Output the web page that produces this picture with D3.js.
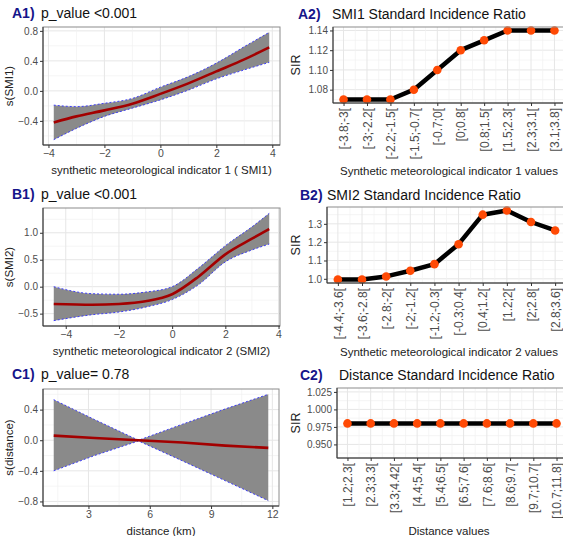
<!DOCTYPE html>
<html>
<head>
<meta charset="utf-8">
<script src="https://cdn.jsdelivr.net/npm/d3@7"></script>
<style>
  body { margin: 0; background: #fff; }
  svg { font-family: "Liberation Sans", Arial, sans-serif; }
</style>
</head>
<body>
<svg id="chart" width="563" height="536"></svg>
<script>
// A1: smooth of SMI1
const smi1X     = [-3.81, -3, -2, -1, 0, 1, 2, 3, 3.89];
const smi1Fit   = [-0.42, -0.34, -0.26, -0.17, -0.04, 0.10, 0.26, 0.42, 0.58];
const smi1Upper = [-0.19, -0.21, -0.165, -0.10, 0.05, 0.19, 0.37, 0.59, 0.78];
const smi1Lower = [-0.65, -0.50, -0.34, -0.23, -0.12, 0.01, 0.16, 0.28, 0.38];

// B1: smooth of SMI2
const smi2X     = [-4.45, -3, -2, -1, 0, 1, 2, 3, 3.65];
const smi2Fit   = [-0.32, -0.335, -0.32, -0.27, -0.14, 0.19, 0.60, 0.89, 1.07];
const smi2Upper = [0.0, -0.13, -0.14, -0.10, 0.0, 0.35, 0.76, 1.11, 1.36];
const smi2Lower = [-0.63, -0.52, -0.47, -0.38, -0.24, 0.04, 0.46, 0.68, 0.79];

// C1: smooth of distance
const distX     = [1.3, 3.3, 5.45, 7.6, 9.7, 11.8];
const distFit   = [0.06, 0.03, 0.0, -0.03, -0.07, -0.10];
const distUpper = [0.53, 0.27, 0.0, 0.21, 0.41, 0.60];
const distLower = [-0.40, -0.20, -0.01, -0.27, -0.53, -0.79];

// A2 / B2 / C2: SIR by class
const smi1Classes = ["[-3.8;-3[", "[-3;-2.2[", "[-2.2;-1.5[", "[-1.5;-0.7[", "[-0.7;0[", "[0;0.8[", "[0.8;1.5[", "[1.5;2.3[", "[2.3;3.1[", "[3.1;3.8]"];
const smi1SIR = [1.07, 1.07, 1.07, 1.08, 1.10, 1.12, 1.13, 1.14, 1.14, 1.14];

const smi2Classes = ["[-4.4;-3.6[", "[-3.6;-2.8[", "[-2.8;-2[", "[-2;-1.2[", "[-1.2;-0.3[", "[-0.3;0.4[", "[0.4;1.2[", "[1.2;2[", "[2;2.8[", "[2.8;3.6]"];
const smi2SIR = [0.996, 0.996, 1.013, 1.044, 1.08, 1.189, 1.35, 1.373, 1.31, 1.264];

const distClasses = ["[1.2;2.3[", "[2.3;3.3[", "[3.3;4.42[", "[4.4;5.4[", "[5.4;6.5[", "[6.5;7.6[", "[7.6;8.6[", "[8.6;9.7[", "[9.7;10.7[", "[10.7;11.8]"];
const distSIR = [0.98, 0.98, 0.98, 0.98, 0.98, 0.98, 0.98, 0.98, 0.98, 0.98];

const svg = d3.select("#chart");
const TICK_COL = "#4d4d4d";
const LABEL_BLUE = "#15158a";

function expand(ext, mult = 0.05) {
  const r = ext[1] - ext[0];
  return [ext[0] - r * mult, ext[1] + r * mult];
}

function panelFrame(g, w, h) {
  g.append("rect").attr("width", w).attr("height", h).attr("fill", "#fff");
}

function drawTitle(x, y, tag, text, textX, size) {
  svg.append("text").attr("x", x).attr("y", y).attr("font-size", size)
    .attr("fill", LABEL_BLUE).attr("font-weight", "bold").text(tag);
  svg.append("text").attr("x", textX).attr("y", y).attr("font-size", size)
    .attr("fill", "#111").text(text);
}

function gridY(g, y, major, minor, w) {
  g.selectAll(null).data(minor).enter().append("line")
    .attr("x1", 0).attr("x2", w).attr("y1", d => y(d)).attr("y2", d => y(d))
    .attr("stroke", "#f0f0f0").attr("stroke-width", 0.7);
  g.selectAll(null).data(major).enter().append("line")
    .attr("x1", 0).attr("x2", w).attr("y1", d => y(d)).attr("y2", d => y(d))
    .attr("stroke", "#e6e6e6").attr("stroke-width", 1);
}

function gridX(g, xs, minor, h) {
  g.selectAll(null).data(minor).enter().append("line")
    .attr("y1", 0).attr("y2", h).attr("x1", d => d).attr("x2", d => d)
    .attr("stroke", "#f0f0f0").attr("stroke-width", 0.7);
  g.selectAll(null).data(xs).enter().append("line")
    .attr("y1", 0).attr("y2", h).attr("x1", d => d).attr("x2", d => d)
    .attr("stroke", "#e6e6e6").attr("stroke-width", 1);
}

function borders(g, w, h) {
  g.append("rect").attr("width", w).attr("height", h)
    .attr("fill", "none").attr("stroke", "#8c8c8c").attr("stroke-width", 1);
  g.append("path").attr("d", `M0,0V${h}H${w}`)
    .attr("fill", "none").attr("stroke", "#333").attr("stroke-width", 1);
}

function yAxis(g, y, ticks, fmt) {
  const a = g.append("g").call(d3.axisLeft(y).tickValues(ticks).tickFormat(fmt).tickSize(3).tickPadding(2));
  a.select(".domain").remove();
  a.selectAll(".tick line").attr("stroke", "#333");
  a.selectAll("text").attr("fill", TICK_COL).attr("font-size", 10).attr("font-family", null);
}

function plotSmooth(opts) {
  const { left, top, width, height, xs, fit, upper, lower, xTicks, yTicks, yFmt, xTitle, yTitle, curve } = opts;
  const g = svg.append("g").attr("transform", `translate(${left},${top})`);
  const x = d3.scaleLinear().domain(expand(d3.extent(xs))).range([0, width]);
  const yExt = [d3.min(lower.concat(upper)), d3.max(lower.concat(upper))];
  const y = d3.scaleLinear().domain(expand(yExt)).range([height, 0]);

  panelFrame(g, width, height);
  const xStep = xTicks[1] - xTicks[0];
  const yStep = yTicks[1] - yTicks[0];
  const xMinor = d3.range(xTicks[0] - xStep / 2, xTicks[xTicks.length - 1] + xStep, xStep);
  const yMinor = d3.range(yTicks[0] - yStep / 2, yTicks[yTicks.length - 1] + yStep, yStep);
  gridY(g, y, yTicks, yMinor.filter(v => y(v) >= 0 && y(v) <= height), width);
  gridX(g, xTicks.map(x), xMinor.map(x).filter(v => v >= 0 && v <= width), height);

  const pts = xs.map((d, i) => ({ x: d, fit: fit[i], hi: upper[i], lo: lower[i] }));
  const area = d3.area().curve(curve).x(d => x(d.x)).y0(d => y(d.lo)).y1(d => y(d.hi));
  g.append("path").datum(pts).attr("d", area).attr("fill", "#8a8a8a");
  ["hi", "lo"].forEach(k => {
    g.append("path").datum(pts)
      .attr("d", d3.line().curve(curve).x(d => x(d.x)).y(d => y(d[k])))
      .attr("fill", "none").attr("stroke", "#3030ff").attr("stroke-width", 0.9)
      .attr("stroke-dasharray", "2,2");
  });
  g.append("path").datum(pts)
    .attr("d", d3.line().curve(curve).x(d => x(d.x)).y(d => y(d.fit)))
    .attr("fill", "none").attr("stroke", "#a30000").attr("stroke-width", 2.6);

  borders(g, width, height);
  yAxis(g, y, yTicks, yFmt);
  const xa = g.append("g").attr("transform", `translate(0,${height})`)
    .call(d3.axisBottom(x).tickValues(xTicks).tickSize(3).tickPadding(2));
  xa.select(".domain").remove();
  xa.selectAll(".tick line").attr("stroke", "#333");
  xa.selectAll("text").attr("fill", TICK_COL).attr("font-size", 10.5).attr("font-family", null);

  svg.append("text").attr("x", left + width / 2).attr("y", top + height + 29)
    .attr("text-anchor", "middle").attr("font-size", 11.5).attr("fill", "#222").text(xTitle);
  svg.append("text").attr("transform", `translate(${left - 30},${top + height / 2}) rotate(-90)`)
    .attr("text-anchor", "middle").attr("font-size", 11.5).attr("fill", "#222").text(yTitle);
}

function plotSIR(opts) {
  const { left, top, width, height, classes, values, yTicks, yMinor, yFmt, yDomain, xTitle, xTitleY } = opts;
  const g = svg.append("g").attr("transform", `translate(${left},${top})`);
  const x = d3.scalePoint().domain(classes).range([0, width]).padding(0.45);
  const y = d3.scaleLinear().domain(yDomain || expand(d3.extent(values))).range([height, 0]);

  panelFrame(g, width, height);
  const step = x.step();
  const xMinor = d3.range(-1, classes.length).map(i => x(classes[0]) + step * (i + 0.5));
  gridY(g, y, yTicks, yMinor.filter(v => y(v) >= 0 && y(v) <= height), width);
  gridX(g, classes.map(x), xMinor.filter(v => v >= 0 && v <= width), height);

  const line = d3.line().x((d, i) => x(classes[i])).y(d => y(d));
  g.append("path").datum(values).attr("d", line)
    .attr("fill", "none").attr("stroke", "#000").attr("stroke-width", 4.5)
    .attr("stroke-linejoin", "round");
  g.selectAll(".pt").data(values).enter().append("circle")
    .attr("cx", (d, i) => x(classes[i])).attr("cy", d => y(d))
    .attr("r", 4.3).attr("fill", "#ff4a05");

  borders(g, width, height);
  yAxis(g, y, yTicks, yFmt);
  const xa = g.append("g").attr("transform", `translate(0,${height})`)
    .call(d3.axisBottom(x).tickSize(3).tickPadding(2));
  xa.select(".domain").remove();
  xa.selectAll(".tick line").attr("stroke", "#333");
  xa.selectAll("text").attr("fill", TICK_COL).attr("font-size", 12).attr("font-family", null)
    .attr("text-anchor", "end").attr("dy", "0.35em")
    .attr("transform", "translate(0,5) rotate(-90)").attr("x", 0).attr("y", 0);

  svg.append("text").attr("x", 449).attr("y", xTitleY)
    .attr("text-anchor", "middle").attr("font-size", 11.5).attr("fill", "#222").text(xTitle);
  svg.append("text").attr("transform", `translate(300,${top + height / 2}) rotate(-90)`)
    .attr("text-anchor", "middle").attr("font-size", 12.5).attr("fill", "#222").text("SIR");
}

// left column
drawTitle(12, 18, "A1)", "p_value <0.001", 41, 14);
plotSmooth({
  left: 43, top: 27, width: 237, height: 118,
  xs: smi1X, fit: smi1Fit, upper: smi1Upper, lower: smi1Lower,
  xTicks: [-4, -2, 0, 2, 4], yTicks: [-0.4, 0, 0.4, 0.8], yFmt: d3.format(".1f"),
  xTitle: "synthetic meteorological indicator 1 ( SMI1)", yTitle: "s(SMI1)",
  curve: d3.curveMonotoneX
});

drawTitle(12, 199, "B1)", "p_value <0.001", 41, 14);
plotSmooth({
  left: 43, top: 208, width: 237, height: 118,
  xs: smi2X, fit: smi2Fit, upper: smi2Upper, lower: smi2Lower,
  xTicks: [-4, -2, 0, 2, 4], yTicks: [-0.5, 0, 0.5, 1.0], yFmt: d3.format(".1f"),
  xTitle: "synthetic meteorological indicator 2 (SMI2)", yTitle: "s(SMI2)",
  curve: d3.curveMonotoneX
});

drawTitle(12, 379, "C1)", "p_value= 0.78", 41, 14);
plotSmooth({
  left: 43, top: 389, width: 236, height: 117,
  xs: distX, fit: distFit, upper: distUpper, lower: distLower,
  xTicks: [3, 6, 9, 12], yTicks: [-0.8, -0.4, 0, 0.4], yFmt: d3.format(".1f"),
  xTitle: "distance (km)", yTitle: "s(distance)",
  curve: d3.curveLinear
});

// right column
drawTitle(298, 19, "A2)", "SMI1 Standard Incidence Ratio", 332, 14);
plotSIR({
  left: 333, top: 27, width: 232, height: 76,
  classes: smi1Classes, values: smi1SIR,
  yTicks: [1.08, 1.10, 1.12, 1.14], yMinor: [1.07, 1.09, 1.11, 1.13], yFmt: d3.format(".2f"),
  xTitle: "Synthetic meteorological indicator 1 values", xTitleY: 175
});

drawTitle(300, 200, "B2)", "SMI2 Standard Incidence Ratio", 327, 14);
plotSIR({
  left: 327, top: 207, width: 239, height: 76,
  classes: smi2Classes, values: smi2SIR,
  yTicks: [1.0, 1.1, 1.2, 1.3], yMinor: [1.05, 1.15, 1.25, 1.35], yFmt: d3.format(".1f"),
  xTitle: "Synthetic meteorological indicator 2 values", xTitleY: 356
});

drawTitle(300, 380, "C2)", "Distance Standard Incidence Ratio", 339, 14);
plotSIR({
  left: 337, top: 388, width: 230, height: 70,
  classes: distClasses, values: distSIR,
  yTicks: [0.950, 0.975, 1.000, 1.025], yMinor: [0.9375, 0.9625, 0.9875, 1.0125], yFmt: d3.format(".3f"),
  yDomain: [0.9306, 1.0306],
  xTitle: "Distance values", xTitleY: 535
});
</script>
</body>
</html>
